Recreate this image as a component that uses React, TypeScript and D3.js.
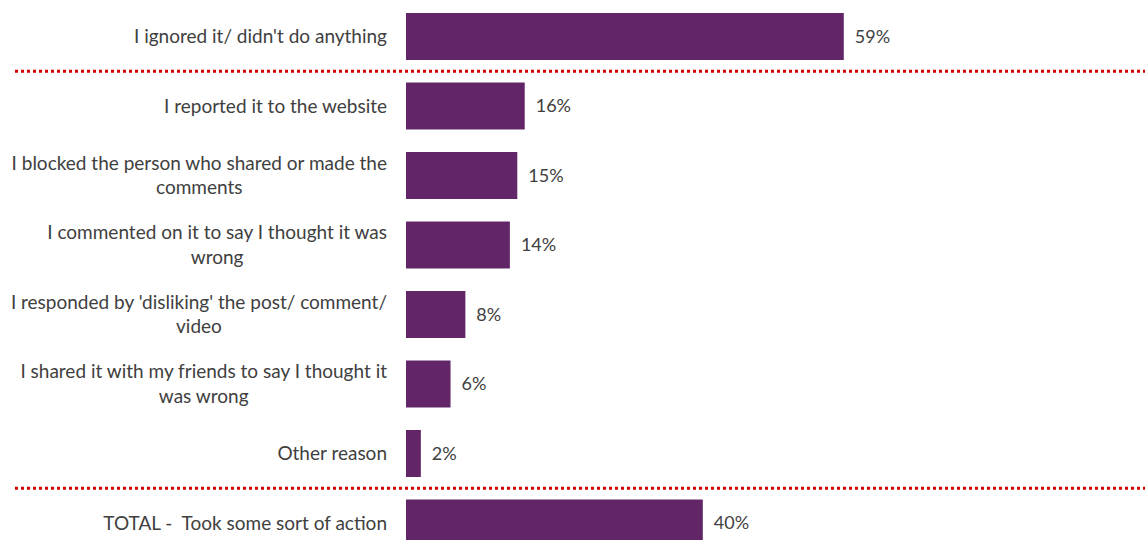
import React, { useEffect, useRef } from "react";
import * as d3 from "d3";

const categories: string[][] = [
  ["I ignored it/ didn't do anything"],
  ["I reported it to the website"],
  ["I blocked the person who shared or made the", "comments"],
  ["I commented on it to say I thought it was", "wrong"],
  ["I responded by 'disliking' the post/ comment/", "video"],
  ["I shared it with my friends to say I thought it", "was wrong"],
  ["Other reason"],
  ["TOTAL -  Took some sort of action"],
];
const values: number[] = [59, 16, 15, 14, 8, 6, 2, 40];
const separatorsAfter: number[] = [0, 6];

const W = 1145;
const H = 540;
const FONT = "Lato, 'Open Sans', sans-serif";
const TEXT = "#404040";
const BAR = "#622567";
const LABEL_SIZE = 19;

export default function App() {
  const ref = useRef<SVGSVGElement>(null);
  useEffect(() => {
    const svg = d3.select(ref.current);
    svg.selectAll("*").remove();
    const x = d3.scaleLinear().domain([0, 100]).range([406, 1148]);
    const y = d3
      .scaleBand<number>()
      .domain(values.map((_, i) => i))
      .range([1.75, 1.75 + 8 * 69.5])
      .paddingInner(0.324)
      .paddingOuter(0.162);

    svg
      .selectAll("rect.bar")
      .data(values)
      .join("rect")
      .attr("class", "bar")
      .attr("x", x(0))
      .attr("y", (_, i) => y(i)!)
      .attr("width", (d) => x(d) - x(0))
      .attr("height", y.bandwidth())
      .attr("fill", BAR);

    svg
      .selectAll("text.val")
      .data(values)
      .join("text")
      .attr("class", "val")
      .attr("x", (d) => x(d) + 11)
      .attr("y", (_, i) => y(i)! + y.bandwidth() / 2)
      .attr("dy", "0.35em")
      .attr("font-family", FONT)
      .attr("font-size", 18)
      .attr("fill", TEXT)
      .text((d) => `${d}%`);

    const labelRight = 387;
    const lineH = 24.5;
    categories.forEach((lines, i) => {
      const cy = y(i)! + y.bandwidth() / 2;
      const g = svg.append("g");
      const top = cy - ((lines.length - 1) * lineH) / 2;
      const first = g
        .append("text")
        .attr("x", labelRight)
        .attr("text-anchor", "end")
        .attr("y", top)
        .attr("dy", "0.35em")
        .attr("font-family", FONT)
        .attr("font-size", LABEL_SIZE)
        .attr("fill", TEXT)
        .style("white-space", "pre")
        .text(lines[0]);
      if (lines.length > 1) {
        const w = (first.node() as SVGTextElement).getComputedTextLength();
        const center = labelRight - w / 2;
        lines.slice(1).forEach((ln, k) => {
          g.append("text")
            .attr("x", center)
            .attr("text-anchor", "middle")
            .attr("y", top + (k + 1) * lineH)
            .attr("dy", "0.35em")
            .attr("font-family", FONT)
            .attr("font-size", LABEL_SIZE)
            .attr("fill", TEXT)
            .text(ln);
        });
      }
    });

    separatorsAfter.forEach((i) => {
      const yy = (y(i)! + y.bandwidth() + y(i + 1)!) / 2;
      svg
        .append("line")
        .attr("x1", 15)
        .attr("x2", W)
        .attr("y1", yy)
        .attr("y2", yy)
        .attr("stroke", "#d40000")
        .attr("stroke-width", 3)
        .attr("stroke-dasharray", "3,3");
    });
  }, []);
  return (
    <svg
      ref={ref}
      width={W}
      height={H}
      style={{ position: "absolute", left: 0, top: 0, background: "#fff" }}
    />
  );
}
